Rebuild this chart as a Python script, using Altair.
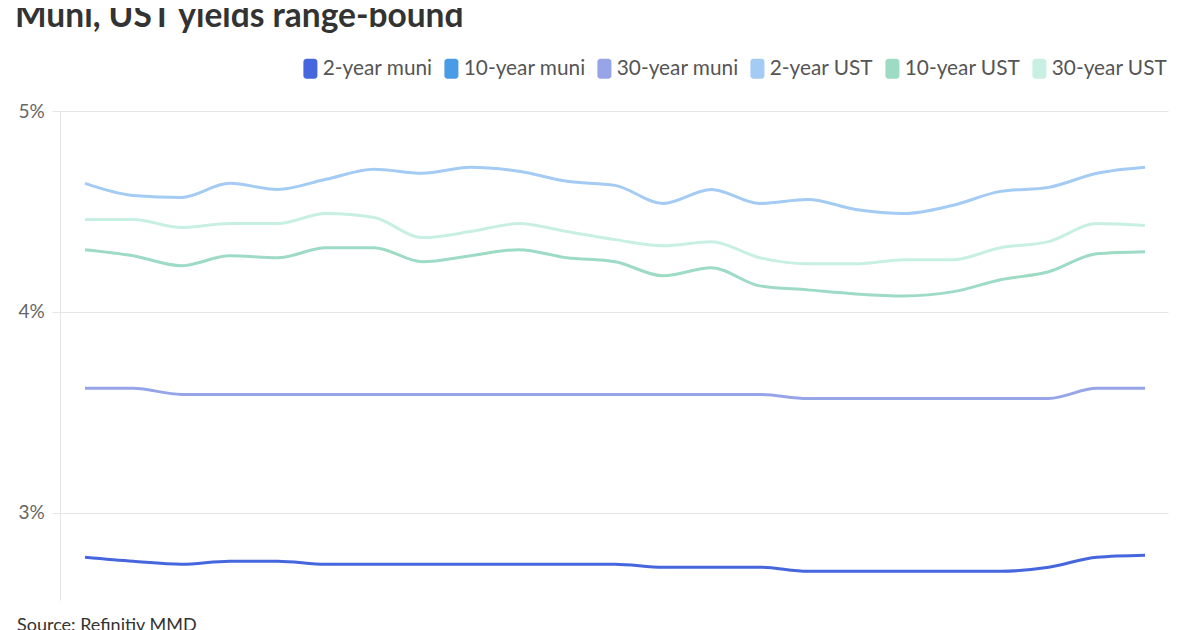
import altair as alt
import pandas as pd

# ---- data ----
days = list(range(23))
series_names = ["2-year muni", "10-year muni", "30-year muni", "2-year UST", "10-year UST", "30-year UST"]
series_colors = ["#4566dc", "#4a9be6", "#97a4e8", "#a3cbf3", "#9edbc5", "#c8f0e2"]

muni_2 = [2.78, 2.76, 2.745, 2.76, 2.76, 2.745, 2.745, 2.745, 2.745, 2.745, 2.745, 2.745,
          2.73, 2.73, 2.73, 2.71, 2.71, 2.71, 2.71, 2.71, 2.73, 2.78, 2.79]
muni_10 = []  # listed in the legend, no line drawn in the reference
muni_30 = [3.62, 3.62, 3.59, 3.59, 3.59, 3.59, 3.59, 3.59, 3.59, 3.59, 3.59, 3.59,
           3.59, 3.59, 3.59, 3.57, 3.57, 3.57, 3.57, 3.57, 3.57, 3.62, 3.62]
ust_2 = [4.64, 4.58, 4.57, 4.64, 4.61, 4.66, 4.71, 4.69, 4.72, 4.70, 4.65, 4.63,
         4.54, 4.61, 4.54, 4.56, 4.51, 4.49, 4.53, 4.60, 4.62, 4.69, 4.72]
ust_10 = [4.31, 4.28, 4.23, 4.28, 4.27, 4.32, 4.32, 4.25, 4.28, 4.31, 4.27, 4.25,
          4.18, 4.22, 4.13, 4.11, 4.09, 4.08, 4.10, 4.16, 4.20, 4.29, 4.30]
ust_30 = [4.46, 4.46, 4.42, 4.44, 4.44, 4.49, 4.47, 4.37, 4.40, 4.44, 4.40, 4.36,
          4.33, 4.35, 4.27, 4.24, 4.24, 4.26, 4.26, 4.32, 4.35, 4.44, 4.43]

y_ticks = [3, 4, 5]
title_text = ["Muni, UST yields range-bound"]
source_text = ["Source: Refinitiv MMD"]

color_of = dict(zip(series_names, series_colors))
rows = []
for name, vals in zip(series_names, [muni_2, muni_10, muni_30, ust_2, ust_10, ust_30]):
    for d, v in zip(days, vals):
        rows.append({"day": d, "yield": v, "series": name, "hex": color_of[name]})
df = pd.DataFrame(rows)

FONT = "Lato"

x_enc = alt.X("day:Q", scale=alt.Scale(domain=[-0.519, 22.477], nice=False, zero=False), axis=None)
y_enc = alt.Y(
    "yield:Q",
    scale=alt.Scale(domain=[2.567, 5], nice=False, zero=False),
    axis=alt.Axis(
        values=y_ticks,
        labelExpr="datum.value + '%'",
        title=None,
        grid=True,
        gridColor="#e6e6e6",
        gridWidth=1,
        domain=True,
        domainColor="#e6e6e6",
        ticks=True,
        tickColor="#e6e6e6",
        tickSize=8,
        labelPadding=34,
        labelAlign="left",
        labelBaseline="middle",
        labelFont=FONT,
        labelFontSize=19,
        labelColor="#666666",
    ),
)

# lines coloured straight from each series' colour (same list the legend scale uses)
lines = alt.Chart(df).mark_line(interpolate="monotone", strokeWidth=3).encode(
    x=x_enc,
    y=y_enc,
    stroke=alt.Stroke("hex:N", scale=None),
    detail="series:N",
)

swatch = ("M-0.4,-1H0.4A0.3,0.3 0 0 1 0.7,-0.7V0.7A0.3,0.3 0 0 1 0.4,1H-0.4"
          "A0.3,0.3 0 0 1 -0.7,0.7V-0.7A0.3,0.3 0 0 1 -0.4,-1Z")

legend_layer = alt.Chart(df).mark_point(filled=True, size=0, strokeWidth=0).encode(
    x=alt.X("day:Q"),
    y=alt.Y("yield:Q"),
    fill=alt.Fill(
        "series:N",
        scale=alt.Scale(domain=series_names, range=series_colors),
        legend=alt.Legend(
            orient="none",
            legendX=240,
            legendY=-53,
            direction="horizontal",
            title=None,
            symbolType=swatch,
            symbolSize=400,
            symbolStrokeWidth=0,
            symbolOpacity=1,
            labelFont=FONT,
            labelFontSize=20.8,
            labelColor="#555555",
            labelOffset=2,
            columnPadding=8,
            padding=0,
        ),
    ),
)

title = alt.Chart(pd.DataFrame({"t": title_text})).mark_text(
    align="left", baseline="alphabetic", font=FONT, fontSize=33.5, fontWeight="bold", color="#333333"
).encode(x=alt.value(-45), y=alt.value(-84), text="t:N")

source = alt.Chart(pd.DataFrame({"t": source_text})).mark_text(
    align="left", baseline="alphabetic", font=FONT, fontSize=18, color="#333333"
).encode(x=alt.value(-43), y=alt.value(520), text="t:N")

chart = alt.layer(lines, legend_layer, title, source).properties(
    width=1108,
    height=489,
    autosize=alt.AutoSizeParams(type="none"),
    padding={"left": 52, "top": 103, "right": 16, "bottom": 30},
).configure_view(stroke=None)

chart.save("out.html", embed_options={"renderer": "svg", "actions": False})
